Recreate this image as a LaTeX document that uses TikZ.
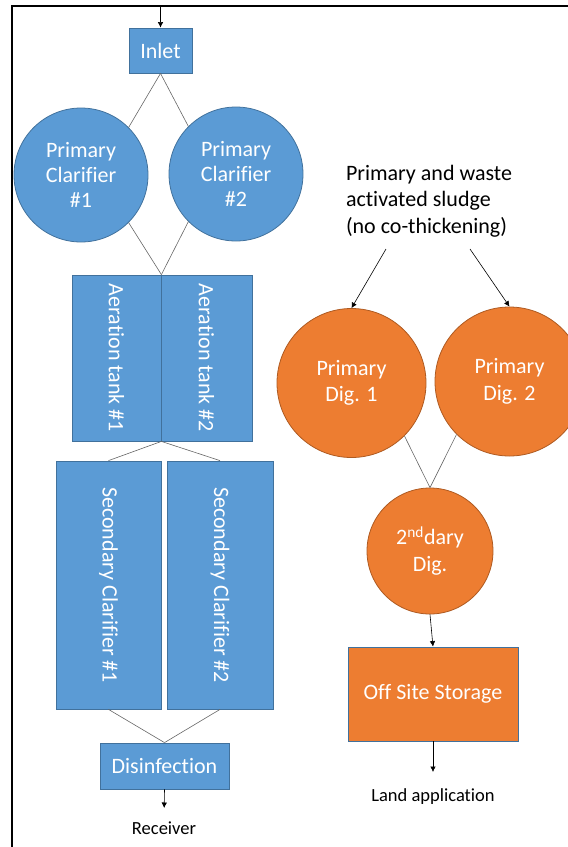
\documentclass[tikz,border=0pt]{standalone}
\usepackage{fontspec}
\setmainfont{Carlito}[Ligatures=NoCommon]
\usepackage{graphicx}
\usetikzlibrary{arrows.meta}
\definecolor{waterblue}{HTML}{5B9BD5}
\definecolor{waterline}{HTML}{41719C}
\definecolor{sludgeorange}{HTML}{ED7D31}
\definecolor{sludgeline}{HTML}{AE5A21}
\tikzset{
  unitbox/.style={rectangle, fill=waterblue, draw=waterline, line width=0.8pt, text=white,
    inner sep=0pt, align=center, font=\fontsize{22}{26.5}\selectfont},
  clarifier/.style={circle, fill=waterblue, draw=waterline, line width=0.8pt, text=white,
    inner sep=0pt, align=center, font=\fontsize{22}{25}\selectfont},
  digester/.style={circle, fill=sludgeorange, draw=sludgeline, line width=0.8pt, text=white,
    inner sep=0pt, align=center, font=\fontsize{22}{26.5}\selectfont},
  pipe/.style={draw=black!60, line width=0.6pt},
  flow/.style={draw=black, line width=0.6pt, -{Latex[length=5.5pt,width=5.5pt]}},
  note/.style={text=black, font=\fontsize{18.5}{22}\selectfont}
}
\begin{document}
\begin{tikzpicture}[x=1pt,y=-1pt]
  \useasboundingbox (0,0) rectangle (568,847);
  \draw[line width=2pt] (12,6) rectangle (640,900);
  % liquid train
  \coordinate (inflow) at (160.5,6);
  \node[unitbox, minimum width=63pt, minimum height=45pt] (inlet) at (160.5,50.5) {Inlet};
  \node[clarifier, minimum size=134pt] (pc1) at (81,175) {Primary\\Clarifier\\\#1};
  \node[clarifier, minimum size=134pt] (pc2) at (236,174) {Primary\\Clarifier\\\#2};
  \node[unitbox, minimum width=89pt, minimum height=166pt] (aer1) at (116.5,358) {\rotatebox{-90}{Aeration tank \#1}};
  \node[unitbox, minimum width=91pt, minimum height=166pt] (aer2) at (206.5,358) {\rotatebox{-90}{Aeration tank \#2}};
  \node[unitbox, minimum width=105pt, minimum height=248pt] (sec1) at (108.5,585) {\rotatebox{-90}{Secondary Clarifier \#1}};
  \node[unitbox, minimum width=106pt, minimum height=248pt] (sec2) at (220,585) {\rotatebox{-90}{Secondary Clarifier \#2}};
  \node[unitbox, minimum width=129pt, minimum height=46pt] (disinf) at (164.5,766) {Disinfection};
  \node[note, anchor=north] (recv) at (164,818) {Receiver};
  \draw[flow] (inflow) -- (inlet.north);
  \draw[pipe] (inlet.south) -- (pc1.north east);
  \draw[pipe] (inlet.south) -- (pc2.north west);
  \draw[pipe] (pc1.south east) -- (aer1.north east);
  \draw[pipe] (pc2.south west) -- (aer1.north east);
  \draw[pipe] (aer1.south east) -- (sec1.north);
  \draw[pipe] (aer1.south east) -- (sec2.north);
  \draw[pipe] (sec1.south) -- (disinf.north);
  \draw[pipe] (sec2.south) -- (disinf.north);
  \draw[flow, shorten >=10pt] (disinf.south) -- (recv.north);
  % solids train
  \node[text=black, align=left, font=\fontsize{22}{26.5}\selectfont] (feed) at (429,201)
    {Primary and waste\\activated sludge\\(no co-thickening)};
  \coordinate (feedL) at (386,249);
  \coordinate (feedR) at (470,249);
  \node[digester, minimum size=149pt] (dig1) at (351.5,383) {Primary\\Dig. 1};
  \node[digester, minimum size=149pt] (dig2) at (509.5,381.5) {Primary\\Dig. 2};
  \node[digester, minimum size=126pt] (dig3) at (430,551) {2\textsuperscript{nd}dary\\Dig.};
  \node[unitbox, fill=sludgeorange, minimum width=170pt, minimum height=94pt] (store) at (433,694) {Off Site Storage};
  \node[note, anchor=north] (land) at (433,785) {Land application};
  \draw[flow] (feedL) -- (dig1.north);
  \draw[flow] (feedR) -- (dig2.north);
  \draw[pipe] (dig1.south east) -- (dig3.north);
  \draw[pipe] (dig2.south west) -- (dig3.north);
  \draw[flow] (dig3.south) -- (store.north);
  \draw[flow, shorten >=13pt] (store.south) -- (land.north);
\end{tikzpicture}
\end{document}
